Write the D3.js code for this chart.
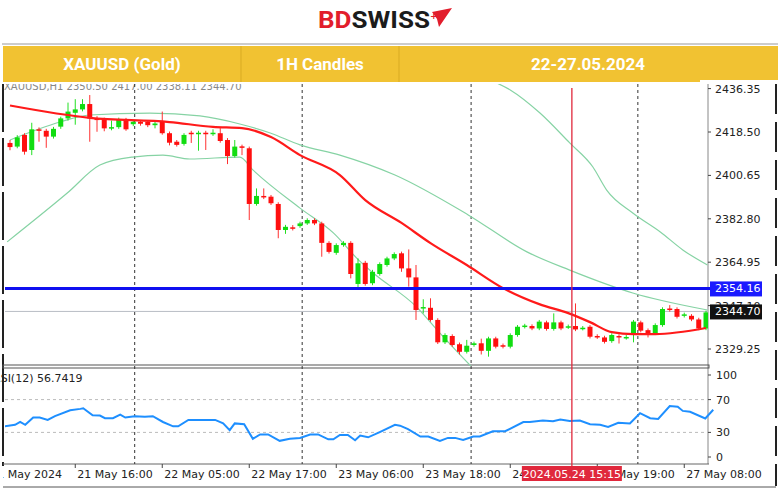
<!DOCTYPE html>
<html><head><meta charset="utf-8">
<script src="https://cdn.jsdelivr.net/npm/d3@7"></script>
<style>body{margin:0;background:#fff}svg{font-family:Tahoma,"DejaVu Sans",sans-serif}</style>
</head><body><svg id="chart" width="780" height="490"></svg>
<script>
// candles, 1H, index 0..96
const opens  = [2414.0,2412.5,2417.3,2411.1,2419.6,2419.0,2416.6,2420.7,2424.1,2426.4,2427.8,2430.0,2424.1,2423.7,2420.0,2420.5,2423.7,2421.7,2422.7,2422.7,2421.3,2422.7,2418.0,2414.5,2413.6,2418.2,2417.6,2418.2,2417.6,2418.0,2415.2,2408.6,2412.6,2411.8,2388.9,2392.2,2391.9,2388.9,2378.2,2379.3,2379.8,2380.9,2382.3,2380.9,2372.9,2368.8,2372.0,2372.9,2356.0,2364.7,2356.3,2360.1,2363.8,2366.5,2368.6,2362.4,2358.7,2345.9,2346.2,2341.2,2332.0,2334.6,2331.2,2328.1,2330.9,2331.6,2328.5,2333.6,2330.8,2330.2,2335.0,2338.4,2338.7,2337.7,2340.2,2337.5,2340.2,2338.2,2338.7,2337.6,2338.4,2334.6,2334.0,2332.5,2334.6,2333.8,2335.7,2340.2,2337.0,2335.7,2339.1,2345.9,2345.7,2342.9,2342.9,2341.4,2337.7];
const highs  = [2415.2,2417.2,2418.0,2422.3,2420.4,2419.8,2420.6,2424.8,2430.6,2432.0,2432.0,2433.7,2425.0,2424.4,2423.2,2424.4,2424.3,2423.4,2423.4,2423.4,2423.0,2426.9,2418.7,2415.2,2418.0,2419.0,2419.0,2419.0,2419.6,2420.1,2416.0,2415.2,2413.3,2412.5,2395.3,2395.3,2392.6,2389.6,2380.3,2380.2,2381.6,2383.0,2383.0,2381.6,2373.6,2372.7,2373.6,2373.6,2366.5,2365.5,2361.8,2364.9,2367.2,2369.0,2369.3,2370.2,2363.8,2349.7,2350.1,2341.9,2335.7,2335.3,2331.9,2333.0,2332.3,2333.5,2334.3,2334.3,2331.5,2335.7,2339.1,2339.6,2339.4,2341.2,2340.9,2343.9,2340.9,2339.3,2348.0,2338.7,2339.1,2335.3,2334.7,2335.7,2335.3,2335.0,2341.2,2340.9,2337.7,2339.8,2346.4,2347.3,2346.4,2344.2,2343.6,2342.1,2345.0];
const lows   = [2411.0,2411.8,2409.2,2409.0,2414.5,2412.0,2415.8,2419.8,2423.2,2421.5,2427.0,2414.5,2418.6,2418.8,2419.2,2419.8,2419.0,2420.9,2421.1,2420.5,2420.0,2417.4,2413.0,2412.5,2412.9,2414.0,2410.8,2411.1,2416.9,2414.1,2405.3,2408.0,2409.0,2382.3,2388.2,2390.9,2388.5,2374.8,2376.6,2378.0,2379.1,2380.3,2380.2,2367.2,2368.5,2368.0,2371.3,2358.3,2354.2,2355.3,2355.5,2359.4,2363.1,2365.8,2361.0,2354.9,2341.2,2343.9,2340.5,2331.3,2331.3,2330.2,2327.0,2327.4,2330.2,2327.0,2326.1,2329.5,2329.5,2329.5,2334.3,2337.7,2337.0,2337.0,2336.8,2336.8,2337.0,2337.5,2336.6,2336.9,2333.6,2333.4,2331.5,2331.8,2331.5,2333.1,2332.0,2336.1,2334.0,2335.0,2338.4,2344.6,2341.8,2342.2,2340.7,2337.0,2337.0];
const closes = [2412.3,2416.3,2410.4,2419.6,2419.0,2416.6,2419.8,2424.1,2426.9,2427.8,2430.0,2424.1,2423.4,2420.0,2420.5,2423.7,2419.6,2422.7,2421.9,2421.3,2422.0,2418.0,2414.1,2413.2,2417.3,2417.6,2418.2,2417.8,2418.2,2414.8,2408.6,2412.5,2412.2,2388.9,2392.2,2391.6,2389.2,2378.2,2379.5,2378.8,2380.9,2382.3,2380.9,2372.9,2369.2,2372.0,2372.9,2360.1,2364.5,2356.0,2361.0,2364.2,2366.5,2368.3,2362.4,2358.7,2345.3,2346.5,2341.2,2332.0,2335.0,2330.9,2328.1,2330.6,2331.6,2328.5,2333.6,2330.2,2330.2,2335.0,2338.4,2338.9,2337.7,2340.5,2337.5,2340.2,2337.7,2338.6,2337.3,2338.0,2334.3,2334.1,2332.2,2335.0,2334.1,2334.2,2340.5,2336.8,2335.4,2339.1,2345.7,2345.3,2342.5,2343.5,2341.4,2337.7,2344.3];

// moving average (red) and envelope lines (green), read at candle positions
const maRedIdx = [0,11,22,28,32,36,40,45.5,49,54,58,63,68,73,77,80,83,86,89,96];
const maRed    = [2429.4,2424.3,2422.6,2420.6,2420.1,2416.4,2409.0,2400.8,2390.5,2381.1,2372.8,2363.8,2354.3,2347.7,2344.0,2340.3,2336.2,2335.4,2335.4,2337.9];
const midIdx   = [0,6.9,11,19.3,26.2,31.7,35.9,40,45.5,53.1,63.2,71.3,77.2,85.9,96.2];
const midLine  = [2415.2,2422.6,2425.5,2426.3,2425.1,2421.8,2418.1,2413.2,2409.0,2400.8,2384.4,2369.2,2361.7,2352.3,2345.3];
const upIdx    = [66.2,69,73.1,77.2,80.4,82.3,85.9,89.7,92.8,96.2];
const upLine   = [2439.9,2435.8,2426.3,2414.0,2404.1,2394.6,2385.2,2377.4,2370.0,2363.8];
const lowIdx   = [-0.4,7.9,12.4,16.9,21.1,24.8,31.7,33.5,40,44.6,48.1,50.1,56.1,59.3,63.7];
const lowLine  = [2373.3,2393.4,2404.9,2408.2,2409.0,2407.4,2408.2,2402.9,2387.2,2377.0,2365.8,2360.5,2346.5,2335.8,2321.8];

// RSI(12)
const rsiIdx = [-0.7,0.7,1.4,2.1,3.2,4.1,5.2,6.2,8.3,9.7,10.1,11.4,12.4,13.1,14.2,15.2,15.9,17.2,18.6,19.7,21.1,22.5,23.2,24.6,28.3,29.4,30.3,31.0,32.3,33.5,34.5,35.6,37.2,38.6,40,41.4,42.5,43.9,44.6,45.5,46.6,47.6,48.3,49.4,51,53.1,53.8,54.9,56.6,57.7,59.3,60.4,61.4,62.5,63.9,64.8,66.6,68.3,70.8,71.7,73.5,74.9,75.9,77.2,78.6,80,81.4,82.5,83.9,85.5,86.9,88.3,89.4,91,92.1,92.8,93.8,95.9,97];
const rsi    = [37.4,39.2,42.7,39.2,48.1,48.1,45.2,49.8,56.9,58.7,59.4,50.9,50.5,47.3,47.3,51.6,48.1,49.8,49.1,49.8,42.7,37.4,37.4,45.2,45.2,41.0,32.8,41.0,39.9,22.2,27.5,27.5,19.7,22.2,23.3,27.5,27.5,21.5,21.5,26.8,26.8,20.4,26.1,24.0,30.4,39.2,38.2,33.9,25.0,25.0,19.7,23.3,23.3,20.8,25.0,25.0,31.4,31.4,42.7,42.7,44.5,43.5,45.6,43.8,44.5,39.9,39.2,36.7,41.7,41.0,53.4,47.3,46.3,62.2,61.2,56.2,55.1,47.0,57.6];

const priceTicks = [2436.35,2418.50,2400.65,2382.80,2364.95,2347.10,2329.25];
const rsiTicks = [100,70,30,0];
const timeIdx = [-3,9,21,33,45,57,69,81,93];
const timeLabels = ["21 May 2024","21 May 16:00","22 May 05:00","22 May 17:00","23 May 06:00","23 May 18:00","24 May 06:00","24 May 19:00","27 May 08:00"];
const gridIdx = [17.2,40.3,63.6,86.6];
const cursorIdx = 77.5, cursorLabel = "2024.05.24 15:15";
const levelBlue = 2354.16, levelLast = 2344.70;

const svg = d3.select("#chart");
const x = d3.scaleLinear().domain([0, 96]).range([10, 706]);
const y = d3.scaleLinear().domain([2329.25, 2418.50]).range([349, 132]);
const yr = d3.scaleLinear().domain([0, 100]).range([457, 375]);
const paneL = 5, paneR = 708;

const defs = svg.append("defs");
defs.append("clipPath").attr("id", "cp").append("rect").attr("x", paneL).attr("y", 84).attr("width", paneR - paneL).attr("height", 282);
defs.append("clipPath").attr("id", "cr").append("rect").attr("x", paneL).attr("y", 368).attr("width", paneR - paneL + 6).attr("height", 96);
defs.append("clipPath").attr("id", "ct").append("rect").attr("x", 3).attr("y", 464).attr("width", 770).attr("height", 24);

// logo
const logo = svg.append("g").attr("transform", "translate(318,28)");
logo.append("text").attr("font-family", "Roboto, sans-serif").attr("font-weight", 700).attr("font-size", 24)
    .attr("textLength", 112).attr("lengthAdjust", "spacingAndGlyphs")
    .html('<tspan fill="#e21d2c">BD</tspan><tspan fill="#1b1b1b">SWISS</tspan>');
logo.append("path").attr("d", "M114,-16 L134,-20 L121,-1 L119,-9 Z").attr("fill", "#e21d2c");
logo.append("text").attr("x", 112).attr("y", -9).attr("fill", "#e21d2c").attr("font-size", 9).attr("font-weight", 700).text("+");

// indicator text behind banner
svg.append("text").attr("x", 4).attr("y", 90).attr("font-size", 10).attr("fill", "#888")
    .text("XAUUSD,H1  2350.50 2417.00 2338.11 2344.70");

// banner
svg.append("rect").attr("x", 0).attr("y", 80).attr("width", 780).attr("height", 4).attr("fill", "#fff");
svg.append("line").attr("x1", 2).attr("x2", 778).attr("y1", 44).attr("y2", 44).attr("stroke", "#999");
svg.append("rect").attr("x", 3).attr("y", 46).attr("width", 775).attr("height", 36).attr("fill", "#f1c232");
[241, 399].forEach(s => svg.append("line").attr("x1", s).attr("x2", s).attr("y1", 46).attr("y2", 82).attr("stroke", "#d9ab22"));
[["XAUUSD (Gold)", 122], ["1H Candles", 320], ["22-27.05.2024", 588]].forEach(([t, cx]) =>
    svg.append("text").attr("x", cx).attr("y", 70).attr("text-anchor", "middle").attr("fill", "#fff")
        .attr("font-family", "Roboto, sans-serif").attr("font-weight", 700).attr("font-size", 17).text(t));

// frames
svg.append("line").attr("x1", 3).attr("x2", 3).attr("y1", 84).attr("y2", 466).attr("stroke", "#222").attr("stroke-width", 2).attr("stroke-dasharray", "48,6");
svg.append("line").attr("x1", 776).attr("x2", 776).attr("y1", 84).attr("y2", 486).attr("stroke", "#222").attr("stroke-width", 2).attr("stroke-dasharray", "30,8");
svg.append("line").attr("x1", paneR).attr("x2", paneR).attr("y1", 84).attr("y2", 464).attr("stroke", "#888");
svg.append("rect").attr("x", 3).attr("y", 365).attr("width", 706).attr("height", 3).attr("fill", "none").attr("stroke", "#555");
svg.append("line").attr("x1", 3).attr("x2", 709).attr("y1", 464).attr("y2", 464).attr("stroke", "#666");
svg.append("line").attr("x1", 3).attr("x2", 776).attr("y1", 487).attr("y2", 487).attr("stroke", "#555");

// grid
gridIdx.forEach(g => svg.append("line").attr("x1", x(g)).attr("x2", x(g)).attr("y1", 84).attr("y2", 464)
    .attr("stroke", "#333").attr("stroke-dasharray", "3,3"));
rsiTicks.filter(v => v === 70 || v === 30).forEach(v => svg.append("line").attr("x1", paneL).attr("x2", paneR)
    .attr("y1", yr(v)).attr("y2", yr(v)).attr("stroke", "#bbb").attr("stroke-dasharray", "3,3"));

// price pane
const pp = svg.append("g").attr("clip-path", "url(#cp)");
pp.append("line").attr("x1", paneL).attr("x2", paneR).attr("y1", y(levelLast)).attr("y2", y(levelLast)).attr("stroke", "#b8bcc4");
const lineGen = d3.line().curve(d3.curveMonotoneX);
[[upIdx, upLine], [midIdx, midLine], [lowIdx, lowLine]].forEach(([ix, v]) =>
    pp.append("path").attr("d", lineGen(ix.map((d, i) => [x(d), y(v[i])]))).attr("fill", "none").attr("stroke", "#86d3a4").attr("stroke-width", 1.2));

const bw = 5;
const c = pp.selectAll(".c").data(d3.range(opens.length)).enter().append("g");
c.append("line").attr("x1", i => x(i)).attr("x2", i => x(i)).attr("y1", i => y(highs[i])).attr("y2", i => y(lows[i]))
    .attr("stroke", i => closes[i] >= opens[i] ? "#22e022" : "#ff3030");
c.append("rect").attr("x", i => x(i) - bw / 2).attr("width", bw)
    .attr("y", i => y(Math.max(opens[i], closes[i])))
    .attr("height", i => Math.max(1.5, Math.abs(y(opens[i]) - y(closes[i]))))
    .attr("fill", i => closes[i] >= opens[i] ? "#11dd11" : "#ff1010");

pp.append("path").attr("d", lineGen(maRedIdx.map((d, i) => [x(d), y(maRed[i])]))).attr("fill", "none").attr("stroke", "#ff1a1a").attr("stroke-width", 2.2);
svg.append("line").attr("x1", paneL).attr("x2", paneR + 2).attr("y1", y(levelBlue)).attr("y2", y(levelBlue)).attr("stroke", "#1010f0").attr("stroke-width", 3);

// price axis
const pa = svg.append("g").attr("transform", `translate(${paneR},0)`);
priceTicks.forEach(t => {
    pa.append("line").attr("x1", 0).attr("x2", 3).attr("y1", y(t)).attr("y2", y(t)).attr("stroke", "#444");
    pa.append("text").attr("x", 7).attr("y", y(t) + 4).attr("font-size", 11).attr("fill", "#222").text(t.toFixed(2));
});
pa.append("rect").attr("x", 2).attr("y", y(levelBlue) - 7).attr("width", 52).attr("height", 15).attr("fill", "#1a1aff");
pa.append("text").attr("x", 7).attr("y", y(levelBlue) + 4).attr("font-size", 11).attr("fill", "#fff").text(levelBlue.toFixed(2));
pa.append("rect").attr("x", 2).attr("y", y(levelLast) - 7).attr("width", 52).attr("height", 15).attr("fill", "#111");
pa.append("text").attr("x", 7).attr("y", y(levelLast) + 4).attr("font-size", 11).attr("fill", "#fff").text(levelLast.toFixed(2));
// banner covers the top tick label like in the source
svg.append("rect").attr("x", 700).attr("y", 80).attr("width", 80).attr("height", 4).attr("fill", "#fff");

// RSI pane
const rp = svg.append("g").attr("clip-path", "url(#cr)");
rp.append("path").attr("d", d3.line()(rsiIdx.map((d, i) => [x(d), yr(rsi[i])]))).attr("fill", "none").attr("stroke", "#1e8fff").attr("stroke-width", 2);
svg.append("text").attr("x", -7).attr("y", 382).attr("font-size", 11).attr("fill", "#222").text("RSI(12) 56.7419");
rsiTicks.forEach(t => {
    pa.append("line").attr("x1", 0).attr("x2", 3).attr("y1", yr(t)).attr("y2", yr(t)).attr("stroke", "#444");
    pa.append("text").attr("x", 8).attr("y", yr(t) + 4).attr("font-size", 11).attr("fill", "#222").text(t);
});

// time axis
const ta = svg.append("g").attr("clip-path", "url(#ct)");
timeIdx.forEach((t, i) => {
    ta.append("line").attr("x1", x(t)).attr("x2", x(t)).attr("y1", 464).attr("y2", 468).attr("stroke", "#444");
    ta.append("text").attr("x", x(t) + 2).attr("y", 478).attr("font-size", 11).attr("fill", "#222").text(timeLabels[i]);
});

// cursor
svg.append("line").attr("x1", x(cursorIdx)).attr("x2", x(cursorIdx)).attr("y1", 88).attr("y2", 466).attr("stroke", "#e0283c").attr("stroke-width", 1.3);
svg.append("rect").attr("x", x(cursorIdx) - 50).attr("y", 466).attr("width", 100).attr("height", 15).attr("fill", "#e0283c");
svg.append("text").attr("x", x(cursorIdx)).attr("y", 478).attr("text-anchor", "middle").attr("font-size", 11).attr("fill", "#fff").text(cursorLabel);
</script></body></html>
